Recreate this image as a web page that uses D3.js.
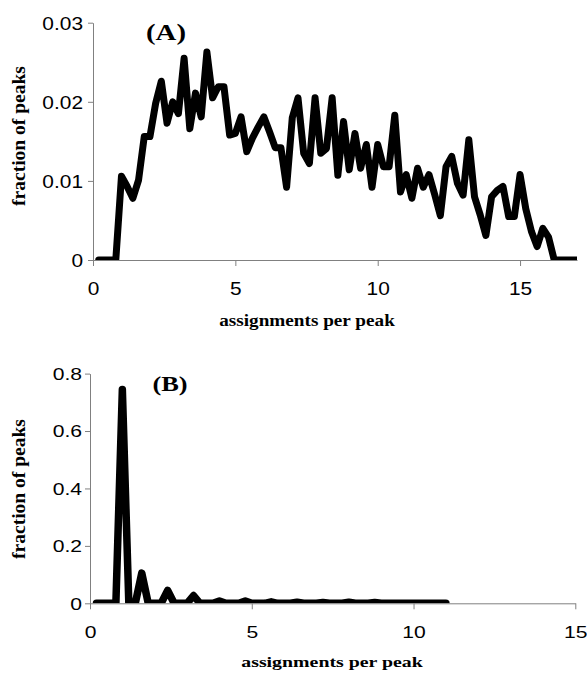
<!DOCTYPE html>
<html>
<head>
<meta charset="utf-8">
<script src="https://cdn.jsdelivr.net/npm/d3@7"></script>
<style>
  html, body { margin: 0; padding: 0; background: #fff; }
  svg { display: block; }
</style>
</head>
<body>
<div id="chart"></div>
<script>
// Panel A: assignments per peak (bin centres) and fraction of peaks
const binsA = [0.2, 0.4, 0.6, 0.8, 1.0, 1.2, 1.4, 1.6, 1.8, 2.0,
	2.2, 2.4, 2.6, 2.8, 3.0, 3.2, 3.4, 3.6, 3.8, 4.0,
	4.2, 4.4, 4.6, 4.8, 5.0, 5.2, 5.4, 5.6, 5.8, 6.0,
	6.2, 6.4, 6.6, 6.8, 7.0, 7.2, 7.4, 7.6, 7.8, 8.0,
	8.2, 8.4, 8.6, 8.8, 9.0, 9.2, 9.4, 9.6, 9.8, 10.0,
	10.2, 10.4, 10.6, 10.8, 11.0, 11.2, 11.4, 11.6, 11.8, 12.0,
	12.2, 12.4, 12.6, 12.8, 13.0, 13.2, 13.4, 13.6, 13.8, 14.0,
	14.2, 14.4, 14.6, 14.8, 15.0, 15.2, 15.4, 15.6, 15.8, 16.0,
	16.2, 16.4, 16.6, 16.8, 17.0];
const fractionA = [0, 0, 0, 0, 0.0106, 0.0093, 0.0078, 0.0101, 0.0156, 0.0156,
	0.0198, 0.0226, 0.0173, 0.0200, 0.0185, 0.0255, 0.0166, 0.0211, 0.0181, 0.0263,
	0.0205, 0.0219, 0.0219, 0.0158, 0.0160, 0.0181, 0.0137, 0.0154, 0.0168, 0.0181,
	0.0162, 0.0142, 0.0142, 0.0092, 0.0180, 0.0205, 0.0135, 0.0122, 0.0205, 0.0135,
	0.0141, 0.0205, 0.0107, 0.0175, 0.0114, 0.0160, 0.0116, 0.0146, 0.0092, 0.0146,
	0.0118, 0.0118, 0.0183, 0.0086, 0.0108, 0.0078, 0.0116, 0.0092, 0.0108, 0.0083,
	0.0056, 0.0118, 0.0131, 0.0097, 0.0082, 0.0152, 0.0080, 0.0057, 0.0031, 0.0080,
	0.0088, 0.0093, 0.0055, 0.0055, 0.0108, 0.0065, 0.0036, 0.0017, 0.0040, 0.0029,
	0, 0, 0, 0, 0];

// Panel B
const binsB = [0.2, 0.4, 0.6, 0.8, 1.0, 1.2, 1.4, 1.6, 1.8, 2.0,
	2.2, 2.4, 2.6, 2.8, 3.0, 3.2, 3.4, 3.6, 3.8, 4.0,
	4.2, 4.4, 4.6, 4.8, 5.0, 5.2, 5.4, 5.6, 5.8, 6.0,
	6.2, 6.4, 6.6, 6.8, 7.0, 7.2, 7.4, 7.6, 7.8, 8.0,
	8.2, 8.4, 8.6, 8.8, 9.0, 9.2, 9.4, 9.6, 9.8, 10.0,
	10.2, 10.4, 10.6, 10.8, 11.0];
const fractionB = [0, 0, 0, 0, 0.745, 0, 0, 0.105, 0, 0,
	0, 0.045, 0, 0, 0, 0.027, 0, 0, 0, 0.008,
	0, 0, 0, 0.008, 0, 0, 0, 0.005, 0, 0,
	0, 0.004, 0, 0, 0, 0.003, 0, 0, 0, 0.004,
	0, 0, 0, 0.003, 0, 0, 0, 0, 0, 0,
	0, 0, 0, 0, 0];

const ticksAx = [0, 5, 10, 15];
const ticksAy = [0, 0.01, 0.02, 0.03];
const ticksBx = [0, 5, 10, 15];
const ticksBy = [0, 0.2, 0.4, 0.6, 0.8];

const xTitle = 'assignments per peak';
const yTitle = 'fraction of peaks';

const width = 587, height = 673;
const axisGrey = '#808080';

const svg = d3.select('#chart').append('svg')
	.attr('width', width)
	.attr('height', height);

// Draw one panel
const drawPanel = function(opt) {
	const x = d3.scaleLinear().domain(opt.xDomain).range(opt.xRange);
	const y = d3.scaleLinear().domain(opt.yDomain).range(opt.yRange);
	const g = svg.append('g');

	// Clip the line to the plot area, like the original spreadsheet chart
	g.append('clipPath').attr('id', 'clip-' + opt.id)
		.append('rect')
		.attr('x', opt.xRange[0])
		.attr('y', opt.yRange[1] - 10)
		.attr('width', opt.xRange[1] - opt.xRange[0])
		.attr('height', opt.yRange[0] - opt.yRange[1] + 10);

	const points = opt.bins.map((b, i) => [b, opt.values[i]]);
	g.append('path')
		.datum(points)
		.attr('clip-path', 'url(#clip-' + opt.id + ')')
		.attr('fill', 'none')
		.attr('stroke', '#000')
		.attr('stroke-width', opt.lineWidth)
		.attr('stroke-linejoin', 'round')
		.attr('stroke-linecap', 'round')
		.attr('d', d3.line().x(d => x(d[0])).y(d => y(d[1])));

	// Axes
	const xAxis = g.append('g')
		.attr('transform', 'translate(0,' + opt.yRange[0] + ')')
		.call(d3.axisBottom(x).tickValues(opt.xTicks).tickSize(6).tickSizeOuter(0).tickFormat(d3.format('d')));
	const yAxis = g.append('g')
		.attr('transform', 'translate(' + opt.xRange[0] + ',0)')
		.call(d3.axisLeft(y).tickValues(opt.yTicks).tickSize(5).tickSizeOuter(0).tickFormat(opt.yFormat));

	[xAxis, yAxis].forEach(a => {
		a.select('.domain').attr('stroke', axisGrey);
		a.selectAll('.tick line').attr('stroke', axisGrey);
		a.selectAll('.tick text')
			.attr('fill', '#000')
			.style('font-family', '"Liberation Sans", Arial, sans-serif')
			.style('font-size', opt.tickFont + 'px');
	});

	xAxis.selectAll('.tick text')
		.attr('y', opt.xLabelBaseline)
		.attr('dy', null)
		.attr('transform', 'scale(' + opt.stretch + ',1)');
	yAxis.selectAll('.tick text')
		.attr('x', -opt.yLabelGap / opt.stretch)
		.attr('dy', '0.36em')
		.attr('transform', 'scale(' + opt.stretch + ',1)');

	// Titles
	g.append('text')
		.attr('transform', 'translate(' + opt.xTitlePos[0] + ',' + opt.xTitlePos[1] + ') scale(' + opt.stretch + ',1)')
		.attr('text-anchor', 'middle')
		.style('font-family', '"Liberation Serif", "Times New Roman", serif')
		.style('font-weight', 'bold')
		.style('font-size', opt.titleFont + 'px')
		.text(xTitle);

	g.append('text')
		.attr('transform', 'translate(' + opt.yTitlePos[0] + ',' + opt.yTitlePos[1] + ') rotate(-90)')
		.attr('text-anchor', 'middle')
		.style('font-family', '"Liberation Serif", "Times New Roman", serif')
		.style('font-weight', 'bold')
		.style('font-size', '19.5px')
		.text(yTitle);

	g.append('text')
		.attr('transform', 'translate(' + opt.labelPos[0] + ',' + opt.labelPos[1] + ') scale(1.2,1)')
		.attr('text-anchor', 'middle')
		.style('font-family', '"Liberation Serif", "Times New Roman", serif')
		.style('font-weight', 'bold')
		.style('font-size', opt.labelFont + 'px')
		.text(opt.label);
};

drawPanel({
	id: 'A', label: '(A)', bins: binsA, values: fractionA,
	xDomain: [0, 17], xRange: [93, 577],
	yDomain: [0, 0.03], yRange: [260, 22.7],
	xTicks: ticksAx, yTicks: ticksAy, yFormat: d => d === 0 ? '0' : d3.format('.2f')(d),
	lineWidth: 7, tickFont: 18.5, stretch: 1.13, titleFont: 17,
	xLabelBaseline: 35, yLabelGap: 10,
	xTitlePos: [307, 326], yTitlePos: [25, 136],
	labelPos: [166, 40], labelFont: 24
});

drawPanel({
	id: 'B', label: '(B)', bins: binsB, values: fractionB,
	xDomain: [0, 15], xRange: [90, 575.3],
	yDomain: [0, 0.8], yRange: [603.3, 373.6],
	xTicks: ticksBx, yTicks: ticksBy, yFormat: d => d === 0 ? '0' : d3.format('.1f')(d),
	lineWidth: 7.5, tickFont: 16.5, stretch: 1.28, titleFont: 15.5,
	xLabelBaseline: 34.7, yLabelGap: 8,
	xTitlePos: [332, 667], yTitlePos: [25, 489],
	labelPos: [170, 391], labelFont: 22
});
</script>
</body>
</html>
